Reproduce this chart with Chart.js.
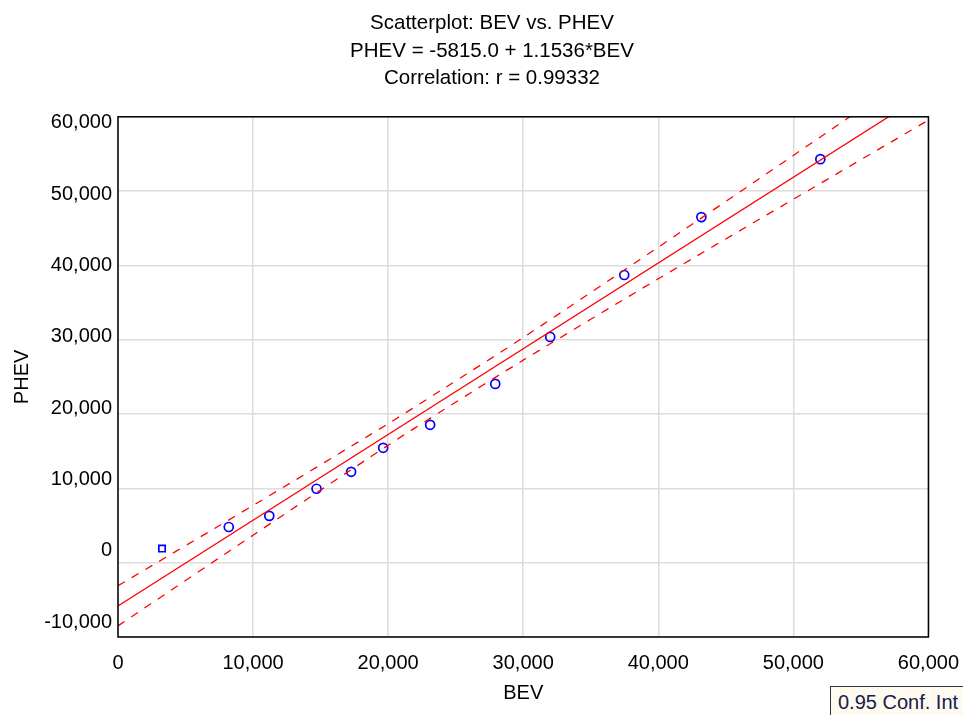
<!DOCTYPE html>
<html>
<head>
<meta charset="utf-8">
<script src="https://cdn.jsdelivr.net/npm/chart.js@4"></script>
<style>
    body { margin: 0; background: #ffffff; }
    #wrap { position: relative; width: 963px; height: 715px; }
    #conf_legend
    {
        position: absolute;
        left: 830px;
        top: 686px;
        width: 140px;
        height: 30px;
        box-sizing: border-box;
        border: 1px solid #333333;
        background: #fffaf0;
        color: #14204a;
        font: 20px "Liberation Sans", Arial, sans-serif;
        line-height: 30px;
        padding-left: 7px;
        white-space: nowrap;
    }
</style>
</head>
<body>
<div id="wrap">
    <canvas id="bev_phev_chart" width="963" height="715"></canvas>
    <div id="conf_legend">0.95 Conf. Int</div>
</div>
<script>
// observed points
const bev_values = [3260, 8200, 11200, 14700, 17260, 19630, 23110, 27930, 32000, 37480, 43190, 52000];
const phev_values = [1900, 4800, 6300, 9950, 12230, 15460, 18550, 24060, 30380, 38710, 46500, 54300];

// regression line PHEV = -5815.0 + 1.1536*BEV
const fit_x = [0, 60000];
const fit_y = [-5815, 63401];

// 0.95 confidence band
const band_x = [0, 10000, 20000, 24000, 30000, 40000, 50000, 60000];
const band_upper = [-3100, 7700, 18700, 23300, 30300, 42450, 54800, 67250];
const band_lower = [-8500, 3700, 15800, 20450, 27250, 38200, 48900, 59550];

const title_lines = ["Scatterplot: BEV vs. PHEV", "PHEV = -5815.0 + 1.1536*BEV", "Correlation: r = 0.99332"];

const to_points = (xs, ys) => xs.map((x, i) => ({ x: x, y: ys[i] }));
const font_family = "'Liberation Sans', Arial, sans-serif";
const format_tick = (v) => Number(v).toLocaleString("en-US");

// box round the plot area
const frame_plugin =
{
    id: "frame",
    afterDraw(chart)
    {
        const a = chart.chartArea;
        const ctx = chart.ctx;
        ctx.save();
        ctx.strokeStyle = "#000000";
        ctx.lineWidth = 1.5;
        ctx.strokeRect(a.left, a.top, a.right - a.left, a.bottom - a.top);
        ctx.restore();
    }
};

// the original spreads the y labels a little tighter than the grid
const y_label_plugin =
{
    id: "y_label_spread",
    beforeDraw(chart)
    {
        const scale = chart.scales.y;
        const items = scale.getLabelItems(chart.chartArea);
        if (items._spread) return;
        const n = items.length;
        items.forEach((item, i) =>
        {
            const k = n - 1 - i;
            item.options.translation[1] += 6 - 3 * k;
        });
        items._spread = true;
    }
};

const bev_phev_chart = new Chart("bev_phev_chart",
{
    type: "scatter",
    data:
    {
        datasets:
        [
            {
                label: "Upper",
                data: to_points(band_x, band_upper),
                showLine: true,
                borderColor: "rgb(255, 0, 0)",
                borderWidth: 1.3,
                borderDash: [8, 8],
                tension: 0.3,
                pointRadius: 0
            },
            {
                label: "Lower",
                data: to_points(band_x, band_lower),
                showLine: true,
                borderColor: "rgb(255, 0, 0)",
                borderWidth: 1.3,
                borderDash: [8, 8],
                tension: 0.3,
                pointRadius: 0
            },
            {
                label: "Fit",
                data: to_points(fit_x, fit_y),
                showLine: true,
                borderColor: "rgb(255, 0, 0)",
                borderWidth: 1.3,
                pointRadius: 0
            },
            {
                label: "PHEV",
                data: to_points(bev_values, phev_values),
                showLine: false,
                borderColor: "rgb(0, 0, 255)",
                backgroundColor: "rgba(0, 0, 0, 0)",
                borderWidth: 1.7,
                pointRadius: 4.5,
                pointStyle: bev_values.map((v, i) => i === 0 ? "rect" : "circle")
            }
        ]
    },
    options:
    {
        animation: false,
        responsive: false,
        layout:
        {
            padding: { left: 21, right: 0, top: 0, bottom: 0 }
        },
        plugins:
        {
            legend: { display: false },
            tooltip: { enabled: false },
            title:
            {
                display: true,
                text: title_lines,
                color: "#000000",
                font: { family: font_family, size: 20.5, weight: "normal", lineHeight: 1.33 },
                padding: { top: 10, bottom: 25 }
            }
        },
        scales:
        {
            x:
            {
                type: "linear",
                min: 0,
                max: 60000,
                afterFit: (scale) => { scale.height = 78; },
                ticks:
                {
                    stepSize: 10000,
                    color: "#000000",
                    padding: 4,
                    maxRotation: 0,
                    font: { family: font_family, size: 20 },
                    callback: format_tick
                },
                grid: { color: "#dcdcdc", lineWidth: 1.5, drawTicks: true, tickLength: 10, tickColor: "rgba(0, 0, 0, 0)" },
                border: { display: false },
                title:
                {
                    display: true,
                    text: "BEV",
                    color: "#000000",
                    font: { family: font_family, size: 20 },
                    padding: { top: 4, bottom: 10 }
                }
            },
            y:
            {
                type: "linear",
                min: -10000,
                max: 60000,
                afterFit: (scale) => { scale.width = 97; },
                ticks:
                {
                    stepSize: 10000,
                    color: "#000000",
                    padding: 6,
                    font: { family: font_family, size: 20 },
                    callback: format_tick
                },
                grid: { color: "#dcdcdc", lineWidth: 1.5, drawTicks: false },
                border: { display: false },
                title:
                {
                    display: true,
                    text: "PHEV",
                    color: "#000000",
                    font: { family: font_family, size: 20 },
                    padding: { top: -11, bottom: 4 }
                }
            }
        }
    },
    plugins: [frame_plugin, y_label_plugin]
});
</script>
</body>
</html>
